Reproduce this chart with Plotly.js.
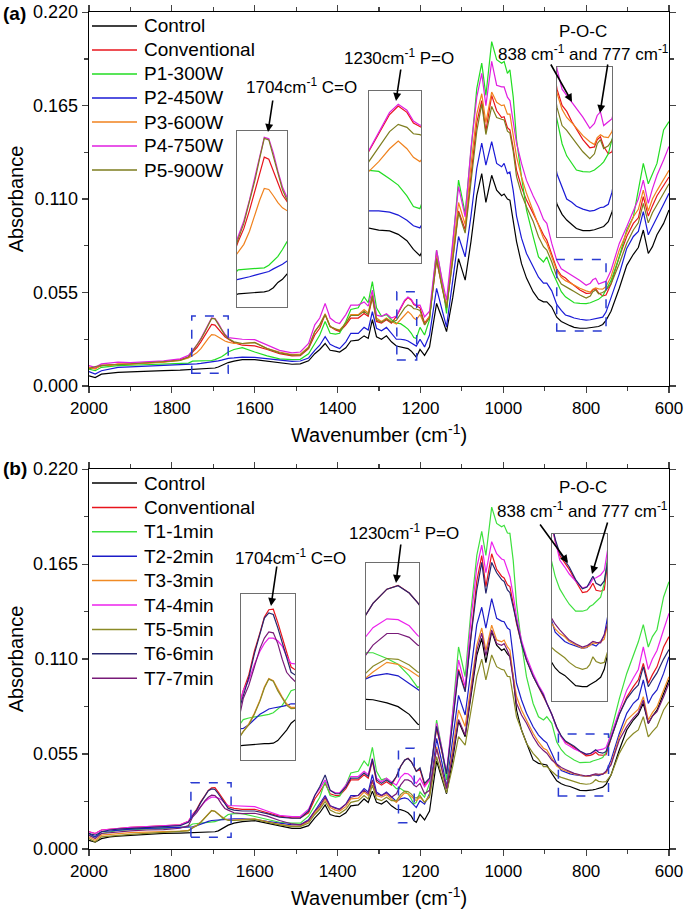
<!DOCTYPE html>
<html>
<head>
<meta charset="utf-8">
<script src="https://cdn.plot.ly/plotly-3.0.1.min.js"></script>
<style>
  html, body { margin: 0; padding: 0; background: #fff; }
  #chart { width: 685px; height: 917px; }
</style>
</head>
<body>
<div id="chart"></div>
<script>
// Wavenumber grid (cm-1) shared by every spectrum
let wavenumber = [
  2000, 1985, 1970, 1950, 1930, 1900, 1860, 1820, 1780, 1760,
  1750, 1740, 1730, 1720, 1712, 1704, 1696, 1688, 1680, 1672,
  1664, 1650, 1630, 1600, 1570, 1540, 1510, 1490, 1470, 1455,
  1443, 1430, 1418, 1405, 1395, 1380, 1368, 1350, 1336, 1326,
  1316, 1306, 1294, 1282, 1270, 1258, 1248, 1238, 1230, 1222,
  1216, 1210, 1201, 1190, 1178, 1161, 1148, 1137, 1122, 1108,
  1092, 1078, 1064, 1052, 1042, 1028, 1016, 1004, 998, 990,
  984, 976, 968, 956, 944, 928, 915, 903, 895, 883,
  871, 860, 850, 839, 829, 815, 800, 790, 784, 777,
  770, 760, 752, 740, 720, 702, 686, 674, 662, 650,
  640, 629, 613, 600
]

// ---- Panel (a): microwave power ----
let aControl = [
  0.006, 0.005, 0.007, 0.0075, 0.008, 0.0083, 0.0088, 0.009, 0.0093, 0.0096,
  0.0100, 0.0101, 0.0102, 0.0102, 0.0103, 0.0104, 0.0106, 0.0112, 0.0122, 0.0128,
  0.0138, 0.0146, 0.0155, 0.0155, 0.0145, 0.0137, 0.0128, 0.013, 0.0148, 0.019,
  0.0215, 0.025, 0.021, 0.0205, 0.020, 0.0225, 0.0265, 0.027, 0.0295, 0.028,
  0.039, 0.029, 0.0275, 0.0295, 0.026, 0.0235, 0.023, 0.0228, 0.022, 0.0205,
  0.0185, 0.017, 0.0215, 0.018, 0.023, 0.0486, 0.040, 0.032, 0.052, 0.075,
  0.0623, 0.085, 0.112, 0.125, 0.108, 0.124, 0.1153, 0.112, 0.113, 0.110,
  0.1094, 0.098, 0.085, 0.072, 0.0635, 0.0555, 0.051, 0.0495, 0.0495, 0.0465,
  0.0405, 0.038, 0.0366, 0.0355, 0.0345, 0.034, 0.034, 0.0342, 0.0345, 0.0348,
  0.035, 0.0362, 0.0386, 0.044, 0.0575, 0.071, 0.0775, 0.0815, 0.0918, 0.078,
  0.082, 0.089, 0.0957, 0.1036
]
let aConventional = [
  0.011, 0.0105, 0.012, 0.0125, 0.0128, 0.013, 0.0135, 0.0142, 0.0155, 0.017,
  0.020, 0.0225, 0.026, 0.030, 0.0335, 0.0362, 0.0358, 0.0335, 0.031, 0.029,
  0.0277, 0.0255, 0.024, 0.0236, 0.0215, 0.019, 0.0177, 0.0178, 0.022, 0.030,
  0.034, 0.042, 0.035, 0.033, 0.032, 0.036, 0.040, 0.040, 0.0427, 0.041,
  0.052, 0.038, 0.037, 0.039, 0.037, 0.041, 0.0455, 0.050, 0.052, 0.0505,
  0.048, 0.047, 0.046, 0.037, 0.041, 0.074, 0.058, 0.046, 0.075, 0.103,
  0.092, 0.125, 0.155, 0.168, 0.150, 0.171, 0.162, 0.158, 0.1585, 0.152,
  0.1507, 0.14, 0.127, 0.117, 0.1094, 0.1016, 0.095, 0.089, 0.0859, 0.078,
  0.069, 0.065, 0.0635, 0.061, 0.059, 0.0565, 0.0545, 0.0547, 0.0565, 0.0572,
  0.0548, 0.053, 0.0535, 0.060, 0.076, 0.088, 0.0957, 0.099, 0.1114, 0.100,
  0.106, 0.112, 0.118, 0.123
]
let aP1 = [
  0.010, 0.009, 0.011, 0.0115, 0.012, 0.0122, 0.0125, 0.0128, 0.013, 0.0135,
  0.0146, 0.0147, 0.0148, 0.0148, 0.0149, 0.015, 0.0155, 0.0163, 0.0172, 0.0185,
  0.020, 0.0215, 0.0226, 0.020, 0.0177, 0.016, 0.0155, 0.0157, 0.019, 0.025,
  0.030, 0.038, 0.031, 0.0305, 0.031, 0.038, 0.045, 0.046, 0.0525, 0.049,
  0.0614, 0.046, 0.041, 0.042, 0.039, 0.037, 0.0367, 0.035, 0.0335, 0.031,
  0.0285, 0.028, 0.0345, 0.030, 0.039, 0.080, 0.062, 0.0427, 0.085, 0.1212,
  0.1016, 0.14, 0.175, 0.19, 0.171, 0.2027, 0.192, 0.19, 0.191, 0.184,
  0.186, 0.170, 0.145, 0.123, 0.1036, 0.088, 0.076, 0.073, 0.076, 0.068,
  0.061, 0.0555, 0.0525, 0.0508, 0.049, 0.0486, 0.0485, 0.049, 0.0495, 0.0502,
  0.051, 0.053, 0.0565, 0.062, 0.076, 0.0918, 0.0996, 0.1153, 0.131, 0.119,
  0.125, 0.131, 0.1507, 0.1556
]
let aP2 = [
  0.0085, 0.007, 0.009, 0.010, 0.011, 0.0113, 0.0117, 0.012, 0.0123, 0.0125,
  0.0128, 0.013, 0.0133, 0.0136, 0.0138, 0.014, 0.0143, 0.0148, 0.0152, 0.0157,
  0.0163, 0.0165, 0.017, 0.0168, 0.016, 0.0152, 0.0145, 0.0147, 0.0165, 0.021,
  0.024, 0.029, 0.0245, 0.023, 0.022, 0.026, 0.031, 0.031, 0.0345, 0.033,
  0.0437, 0.034, 0.0325, 0.0345, 0.031, 0.0275, 0.0275, 0.0272, 0.0265, 0.0253,
  0.024, 0.0235, 0.0275, 0.023, 0.030, 0.0574, 0.045, 0.0348, 0.062, 0.088,
  0.076, 0.100, 0.128, 0.143, 0.130, 0.1438, 0.131, 0.129, 0.131, 0.125,
  0.126, 0.115, 0.100, 0.087, 0.078, 0.070, 0.064, 0.0605, 0.0605, 0.056,
  0.048, 0.0445, 0.0418, 0.041, 0.040, 0.0393, 0.0388, 0.039, 0.0393, 0.0397,
  0.0398, 0.0405, 0.0435, 0.052, 0.066, 0.081, 0.088, 0.091, 0.1026, 0.089,
  0.094, 0.100, 0.107, 0.1134
]
let aP3 = [
  0.011, 0.010, 0.0125, 0.012, 0.013, 0.0128, 0.0135, 0.014, 0.015, 0.0165,
  0.018, 0.0195, 0.022, 0.0255, 0.028, 0.0302, 0.030, 0.0288, 0.0275, 0.0265,
  0.0258, 0.025, 0.025, 0.0257, 0.022, 0.020, 0.0185, 0.0187, 0.023, 0.032,
  0.036, 0.0425, 0.035, 0.0335, 0.033, 0.037, 0.042, 0.042, 0.045, 0.043,
  0.054, 0.040, 0.038, 0.040, 0.038, 0.0365, 0.039, 0.042, 0.0438, 0.042,
  0.040, 0.039, 0.042, 0.036, 0.041, 0.077, 0.059, 0.047, 0.078, 0.108,
  0.095, 0.130, 0.160, 0.172, 0.155, 0.173, 0.167, 0.165, 0.1654, 0.160,
  0.160, 0.148, 0.135, 0.123, 0.1134, 0.103, 0.095, 0.087, 0.0839, 0.076,
  0.068, 0.064, 0.062, 0.0607, 0.0593, 0.0575, 0.056, 0.0553, 0.057, 0.0577,
  0.0572, 0.057, 0.0585, 0.0643, 0.080, 0.090, 0.0996, 0.104, 0.1153, 0.103,
  0.110, 0.115, 0.1212, 0.127
]
let aP4 = [
  0.012, 0.011, 0.013, 0.0135, 0.014, 0.0138, 0.0142, 0.0148, 0.016, 0.018,
  0.021, 0.024, 0.028, 0.0325, 0.0365, 0.040, 0.0397, 0.037, 0.0335, 0.0305,
  0.0285, 0.028, 0.0275, 0.0273, 0.024, 0.021, 0.0195, 0.020, 0.025, 0.036,
  0.040, 0.0486, 0.040, 0.0375, 0.0368, 0.042, 0.0476, 0.0476, 0.0495, 0.047,
  0.0564, 0.0417, 0.041, 0.0425, 0.040, 0.0412, 0.046, 0.0505, 0.0524, 0.051,
  0.0485, 0.0475, 0.0476, 0.0407, 0.044, 0.080, 0.063, 0.0505, 0.085, 0.1173,
  0.0996, 0.140, 0.170, 0.184, 0.165, 0.191, 0.177, 0.176, 0.176, 0.170,
  0.168, 0.1566, 0.143, 0.131, 0.121, 0.112, 0.1055, 0.098, 0.0957, 0.0839,
  0.074, 0.069, 0.0675, 0.066, 0.0645, 0.0621, 0.0593, 0.0605, 0.0625, 0.0634,
  0.060, 0.0609, 0.0617, 0.068, 0.0839, 0.0937, 0.1036, 0.110, 0.1212, 0.1075,
  0.116, 0.124, 0.133, 0.141
]
let aP5 = [
  0.010, 0.0115, 0.012, 0.0125, 0.0125, 0.013, 0.0133, 0.014, 0.015, 0.017,
  0.0205, 0.0235, 0.0275, 0.032, 0.036, 0.0398, 0.0395, 0.0365, 0.033, 0.030,
  0.028, 0.026, 0.025, 0.0255, 0.022, 0.0195, 0.0182, 0.0183, 0.0225, 0.032,
  0.036, 0.042, 0.035, 0.0335, 0.0325, 0.037, 0.0415, 0.0415, 0.044, 0.042,
  0.053, 0.039, 0.0375, 0.0395, 0.0375, 0.0387, 0.0425, 0.046, 0.0477, 0.047,
  0.0455, 0.0453, 0.0445, 0.036, 0.040, 0.075, 0.058, 0.046, 0.074, 0.102,
  0.090, 0.122, 0.150, 0.166, 0.148, 0.1645, 0.158, 0.157, 0.1566, 0.150,
  0.1488, 0.138, 0.1232, 0.113, 0.1055, 0.097, 0.0878, 0.082, 0.080, 0.073,
  0.0645, 0.060, 0.0588, 0.057, 0.0556, 0.0535, 0.0518, 0.053, 0.0555, 0.0565,
  0.0543, 0.055, 0.0564, 0.060, 0.072, 0.084, 0.0918, 0.096, 0.1075, 0.096,
  0.102, 0.107, 0.1134, 0.119
]
let aNames = ["Control", "Conventional", "P1-300W", "P2-450W", "P3-600W", "P4-750W", "P5-900W"]
let aColors = ["#000000", "#e8141c", "#22dd22", "#1a1ad6", "#f0821e", "#e01ee0", "#7d7d1e"]

// ---- Panel (b): treatment time ----
let bControl = [
  0.005, 0.004, 0.006, 0.007, 0.0075, 0.008, 0.0085, 0.009, 0.0092, 0.0094, 0.0096, 0.0097, 0.0098, 0.0098, 0.0099, 0.0099, 0.0100, 0.0105, 0.0115, 0.0125, 0.0138, 0.015, 0.0158, 0.0164, 0.015, 0.0135, 0.012, 0.012,
  0.0135, 0.018, 0.021, 0.0255, 0.020, 0.019, 0.0187, 0.021, 0.025, 0.0255, 0.029, 0.027, 0.0335, 0.027, 0.026, 0.028, 0.025,
  0.023, 0.0228, 0.022, 0.021, 0.019, 0.0165, 0.0155, 0.020,
  0.0168, 0.022, 0.051, 0.040, 0.032, 0.052, 0.074, 0.065, 0.088, 0.112, 0.122, 0.108, 0.126,
  0.118, 0.115, 0.116, 0.113, 0.1114, 0.0998, 0.0805, 0.0689, 0.0612, 0.0516, 0.0496, 0.0490, 0.0487, 0.0438, 0.0395,
  0.0378, 0.0368, 0.0362, 0.0352, 0.034, 0.0338, 0.0338, 0.0342, 0.0346, 0.035, 0.0358, 0.0375, 0.0428, 0.0573, 0.0689, 0.0747, 0.078, 0.0844, 0.0727, 0.077, 0.0804, 0.0901, 0.098
]
let bConventional = [
  0.010, 0.009, 0.011, 0.0115, 0.012, 0.0125, 0.013, 0.0135, 0.014, 0.016, 0.020, 0.023, 0.0275, 0.031, 0.034, 0.0354, 0.0355, 0.033, 0.030, 0.027, 0.0245, 0.0235, 0.023, 0.023, 0.021, 0.019, 0.018, 0.018,
  0.021, 0.029, 0.033, 0.038, 0.032, 0.031, 0.031, 0.035, 0.040, 0.040, 0.043, 0.041, 0.051, 0.039, 0.037, 0.039, 0.037,
  0.042, 0.0478, 0.0515, 0.0525, 0.0505, 0.048, 0.045, 0.046,
  0.037, 0.040, 0.070, 0.056, 0.0435, 0.075, 0.104, 0.092, 0.125, 0.155, 0.170, 0.152, 0.171,
  0.162, 0.158, 0.157, 0.153, 0.152, 0.142, 0.1306, 0.119, 0.1094, 0.100, 0.094, 0.089, 0.0844, 0.078, 0.0705,
  0.065, 0.062, 0.0605, 0.059, 0.0565, 0.054, 0.0542, 0.0548, 0.056, 0.0545, 0.0543, 0.0546, 0.064, 0.078, 0.088, 0.094, 0.098, 0.1075, 0.096, 0.101, 0.1055, 0.117, 0.123
]
let bT1 = [
  0.008, 0.007, 0.009, 0.010, 0.0108, 0.0112, 0.0118, 0.012, 0.0125, 0.013, 0.0145, 0.0148, 0.015, 0.0152, 0.0153, 0.0155, 0.0158, 0.0165, 0.0172, 0.0185, 0.020, 0.0205, 0.0205, 0.0188, 0.017, 0.0155, 0.015, 0.015,
  0.019, 0.025, 0.030, 0.039, 0.031, 0.030, 0.0305, 0.037, 0.044, 0.045, 0.051, 0.048, 0.0589, 0.045, 0.040, 0.041, 0.038,
  0.035, 0.035, 0.0335, 0.032, 0.029, 0.026, 0.027, 0.033,
  0.030, 0.038, 0.0747, 0.058, 0.040, 0.082, 0.117, 0.0998, 0.138, 0.170, 0.184, 0.170, 0.198,
  0.1886, 0.1866, 0.1875, 0.183, 0.1828, 0.167, 0.142, 0.119, 0.0998, 0.0843, 0.0766, 0.0747, 0.0766, 0.0728, 0.062,
  0.0575, 0.0548, 0.053, 0.0515, 0.050, 0.050, 0.0503, 0.051, 0.0514, 0.052, 0.053, 0.056, 0.068, 0.087, 0.1017, 0.112, 0.120, 0.130, 0.117, 0.123, 0.127, 0.146, 0.1548
]
let bT2 = [
  0.009, 0.007, 0.010, 0.0105, 0.011, 0.0115, 0.012, 0.0123, 0.0125, 0.0127, 0.0128, 0.0135, 0.0145, 0.0155, 0.016, 0.0165, 0.0167, 0.0168, 0.017, 0.0172, 0.0175, 0.0175, 0.0175, 0.0172, 0.016, 0.015, 0.014, 0.014,
  0.017, 0.022, 0.026, 0.031, 0.025, 0.024, 0.023, 0.026, 0.031, 0.031, 0.035, 0.033, 0.043, 0.033, 0.031, 0.033, 0.030,
  0.0275, 0.029, 0.0296, 0.029, 0.027, 0.0255, 0.024, 0.028,
  0.026, 0.032, 0.064, 0.050, 0.036, 0.064, 0.089, 0.0776, 0.105, 0.130, 0.140, 0.128, 0.145,
  0.1336, 0.132, 0.1316, 0.128, 0.127, 0.1114, 0.096, 0.0863, 0.0786, 0.0708, 0.066, 0.063, 0.0615, 0.0555, 0.049,
  0.0455, 0.0445, 0.0435, 0.043, 0.0425, 0.042, 0.0422, 0.0428, 0.0428, 0.0425, 0.0435, 0.0448, 0.0514, 0.0669, 0.0786, 0.0844, 0.087, 0.0979, 0.0843, 0.089, 0.0921, 0.1017, 0.1114
]
let bT3 = [
  0.007, 0.005, 0.008, 0.0085, 0.009, 0.0095, 0.0098, 0.010, 0.0103, 0.0108, 0.0122, 0.0137, 0.0157, 0.0182, 0.0207, 0.0223, 0.0219, 0.0202, 0.0188, 0.0175, 0.0168, 0.0168, 0.017, 0.0174, 0.0158, 0.0143, 0.0133, 0.0133,
  0.016, 0.021, 0.024, 0.029, 0.024, 0.0225, 0.022, 0.0245, 0.029, 0.0295, 0.033, 0.031, 0.039, 0.031, 0.030, 0.0315, 0.029,
  0.027, 0.030, 0.0325, 0.032, 0.0305, 0.029, 0.028, 0.030,
  0.027, 0.031, 0.0592, 0.046, 0.035, 0.058, 0.0805, 0.071, 0.095, 0.118, 0.128, 0.115, 0.1297,
  0.1211, 0.12, 0.121, 0.117, 0.1153, 0.100, 0.0883, 0.0805, 0.0747, 0.067, 0.062, 0.0584, 0.0574, 0.053, 0.048,
  0.0462, 0.0452, 0.0445, 0.0435, 0.0428, 0.042, 0.0423, 0.0426, 0.0432, 0.0431, 0.0434, 0.044, 0.0494, 0.065, 0.0747, 0.0786, 0.081, 0.0882, 0.0747, 0.079, 0.0824, 0.0921, 0.0998
]
let bT4 = [
  0.010, 0.009, 0.011, 0.0115, 0.012, 0.0125, 0.013, 0.0135, 0.014, 0.016, 0.020, 0.022, 0.025, 0.0275, 0.029, 0.030, 0.030, 0.0295, 0.0285, 0.0265, 0.0252, 0.025, 0.0245, 0.0245, 0.022, 0.0195, 0.0188, 0.0188,
  0.023, 0.031, 0.035, 0.040, 0.034, 0.0325, 0.0325, 0.037, 0.042, 0.042, 0.045, 0.043, 0.0525, 0.041, 0.039, 0.041, 0.039,
  0.037, 0.0415, 0.0438, 0.0436, 0.042, 0.0395, 0.038, 0.041,
  0.036, 0.040, 0.0728, 0.058, 0.044, 0.079, 0.1095, 0.094, 0.133, 0.163, 0.176, 0.160, 0.178,
  0.171, 0.168, 0.1674, 0.162, 0.1577, 0.147, 0.1345, 0.121, 0.1114, 0.1017, 0.095, 0.090, 0.0844, 0.078, 0.070,
  0.065, 0.061, 0.0595, 0.058, 0.0565, 0.055, 0.0553, 0.0558, 0.057, 0.0572, 0.0578, 0.0588, 0.066, 0.080, 0.092, 0.099, 0.104, 0.117, 0.104, 0.110, 0.115, 0.127, 0.1365
]
let bT5 = [
  0.006, 0.004, 0.007, 0.0075, 0.008, 0.0085, 0.009, 0.0095, 0.010, 0.0105, 0.0122, 0.0135, 0.0155, 0.018, 0.0205, 0.0222, 0.0218, 0.020, 0.0185, 0.0172, 0.0166, 0.0165, 0.0168, 0.0172, 0.0155, 0.014, 0.013, 0.013,
  0.015, 0.020, 0.023, 0.0275, 0.0225, 0.021, 0.0205, 0.023, 0.027, 0.028, 0.031, 0.029, 0.037, 0.029, 0.028, 0.030, 0.028,
  0.028, 0.0315, 0.0335, 0.0333, 0.0318, 0.030, 0.0295, 0.031,
  0.027, 0.030, 0.0535, 0.042, 0.0325, 0.048, 0.0651, 0.0602, 0.080, 0.100, 0.110, 0.098, 0.1124,
  0.1056, 0.104, 0.1037, 0.100, 0.0998, 0.0882, 0.0766, 0.0689, 0.0612, 0.0554, 0.052, 0.0477, 0.0477, 0.045, 0.0425,
  0.0415, 0.0408, 0.040, 0.039, 0.038, 0.0375, 0.0378, 0.0385, 0.0402, 0.0392, 0.0388, 0.039, 0.0428, 0.0554, 0.0631, 0.0669, 0.069, 0.0766, 0.065, 0.068, 0.0708, 0.0805, 0.0853
]
let bT6 = [
  0.009, 0.008, 0.010, 0.011, 0.0115, 0.012, 0.0125, 0.013, 0.0135, 0.0155, 0.019, 0.0225, 0.027, 0.031, 0.0338, 0.0348, 0.0345, 0.032, 0.029, 0.026, 0.0235, 0.0225, 0.022, 0.022, 0.0205, 0.0185, 0.0178, 0.0178,
  0.022, 0.031, 0.036, 0.0429, 0.034, 0.032, 0.032, 0.036, 0.041, 0.041, 0.044, 0.042, 0.052, 0.040, 0.038, 0.040, 0.038,
  0.042, 0.0478, 0.0515, 0.0524, 0.0505, 0.048, 0.045, 0.047,
  0.038, 0.041, 0.071, 0.057, 0.0435, 0.074, 0.103, 0.091, 0.123, 0.150, 0.166, 0.148, 0.166,
  0.160, 0.156, 0.155, 0.150, 0.1485, 0.140, 0.1306, 0.119, 0.1094, 0.100, 0.094, 0.089, 0.0844, 0.078, 0.0705,
  0.0655, 0.0625, 0.061, 0.0595, 0.0568, 0.0548, 0.0552, 0.0562, 0.0575, 0.056, 0.0555, 0.0565, 0.064, 0.078, 0.087, 0.092, 0.095, 0.1056, 0.094, 0.098, 0.102, 0.110, 0.1155
]
let bT7 = [
  0.008, 0.006, 0.009, 0.0095, 0.010, 0.0105, 0.011, 0.0112, 0.012, 0.0135, 0.0185, 0.021, 0.0245, 0.028, 0.030, 0.0312, 0.031, 0.029, 0.026, 0.0235, 0.0225, 0.021, 0.0205, 0.0207, 0.019, 0.0165, 0.0145, 0.014,
  0.0165, 0.022, 0.025, 0.030, 0.025, 0.0235, 0.023, 0.026, 0.030, 0.031, 0.034, 0.032, 0.040, 0.032, 0.031, 0.0325, 0.030,
  0.032, 0.037, 0.040, 0.040, 0.039, 0.037, 0.036, 0.038,
  0.032, 0.034, 0.058, 0.046, 0.035, 0.055, 0.075, 0.066, 0.090, 0.115, 0.125, 0.112, 0.1268,
  0.119, 0.118, 0.119, 0.115, 0.1114, 0.098, 0.0844, 0.0776, 0.0728, 0.065, 0.060, 0.057, 0.0555, 0.0515, 0.049,
  0.0472, 0.046, 0.0448, 0.0438, 0.043, 0.0423, 0.0426, 0.043, 0.0435, 0.0433, 0.0432, 0.045, 0.0487, 0.0631, 0.0709, 0.076, 0.079, 0.0863, 0.0727, 0.077, 0.0795, 0.0882, 0.096
]
let bNames = ["Control", "Conventional", "T1-1min", "T2-2min", "T3-3min", "T4-4min", "T5-5min", "T6-6min", "T7-7min"]
let bColors = ["#000000", "#e8141c", "#3ee03e", "#1c1cc8", "#f08a24", "#ec22ec", "#8a8a26", "#26266e", "#781a78"]

// Zoomed regions: [wavenumber from, wavenumber to, absorbance low, absorbance high]
let aRegions = [[1752, 1664, 0.0075, 0.0412], [1257, 1209, 0.0153, 0.0555], [871, 752, 0.0324, 0.0745]]
let bRegions = [[1754, 1657, 0.0068, 0.0384], [1253, 1215, 0.0152, 0.0583], [867, 746, 0.0307, 0.0666]]

// Inset boxes on the page, pixels: [left, right, top, bottom]
let aBoxes = [[237, 287, 131, 307], [369, 421, 91, 263], [557, 612, 67, 237]]
let bBoxes = [[241, 295, 594, 760], [366, 419, 563, 729], [552, 607, 534, 701]]

let W = 685, H = 917
function px(x) { return x / W }
function py(y) { return 1 - y / H }

let aSeries = [aControl, aConventional, aP1, aP2, aP3, aP4, aP5]
let bSeries = [bControl, bConventional, bT1, bT2, bT3, bT4, bT5, bT6, bT7]

let data = []

// main traces plus the same spectra again on each inset axis
function addPanel(series, names, colors, mainX, mainY, insetIds) {
  for (let i = 0; i < series.length; i++) {
    data.push({
      x: wavenumber, y: series[i], name: names[i],
      type: "scatter", mode: "lines",
      line: { color: colors[i], width: 1.2 },
      xaxis: mainX, yaxis: mainY
    })
    for (let k = 0; k < insetIds.length; k++) {
      data.push({
        x: wavenumber, y: series[i], name: names[i],
        type: "scatter", mode: "lines",
        line: { color: colors[i], width: 1.2 },
        xaxis: "x" + insetIds[k], yaxis: "y" + insetIds[k]
      })
    }
  }
}
addPanel(aSeries, aNames, aColors, "x", "y", [3, 4, 5])
addPanel(bSeries, bNames, bColors, "x2", "y2", [6, 7, 8])

let font = "Liberation Sans, Arial, sans-serif"

function mainX(anchor) {
  return {
    domain: [px(89), px(669)], range: [2000, 600], anchor: anchor,
    tick0: 0, dtick: 200, ticks: "outside", ticklen: 6, tickwidth: 1.2,
    minor: { ticks: "outside", dtick: 100, ticklen: 3.5, tickwidth: 1.2 },
    showline: true, mirror: "ticks", linecolor: "#000", linewidth: 1.3,
    showgrid: false, zeroline: false, tickfont: { size: 17 },
    title: { text: "Wavenumber (cm<sup>-1</sup>)", font: { size: 20 }, standoff: 11 }
  }
}
function mainY(anchor, top, bottom) {
  return {
    domain: [py(bottom), py(top)], range: [0, 0.2201], anchor: anchor,
    tick0: 0, dtick: 0.055, tickformat: ".3f", ticks: "outside", ticklen: 6, tickwidth: 1.2,
    minor: { ticks: "outside", dtick: 0.0275, ticklen: 3.5, tickwidth: 1.2 },
    showline: true, mirror: "ticks", linecolor: "#000", linewidth: 1.3,
    showgrid: false, zeroline: false, tickfont: { size: 18 },
    title: { text: "Absorbance", font: { size: 20 }, standoff: 4 }
  }
}
function insetAxis(domain, range, anchor) {
  return {
    domain: domain, range: range, anchor: anchor,
    showticklabels: false, ticks: "", showgrid: false, zeroline: false,
    showline: true, mirror: true, linecolor: "#6e6e6e", linewidth: 1.2
  }
}

let layout = {
  width: W, height: H,
  margin: { l: 0, r: 0, t: 0, b: 0 },
  paper_bgcolor: "#fff", plot_bgcolor: "rgba(0,0,0,0)",
  font: { family: font, color: "#000", size: 17 },
  showlegend: false,
  xaxis: mainX("y"),
  yaxis: mainY("x", 12, 386),
  xaxis2: mainX("y2"),
  yaxis2: mainY("x2", 469, 849),
  shapes: [],
  annotations: []
}

// inset axes and the dashed blue boxes marking what they enlarge
function addInsets(regions, boxes, firstId, xref, yref) {
  for (let k = 0; k < regions.length; k++) {
    let id = firstId + k
    let r = regions[k], b = boxes[k]
    layout["xaxis" + id] = insetAxis([px(b[0]), px(b[1])], [r[0], r[1]], "y" + id)
    layout["yaxis" + id] = insetAxis([py(b[3]), py(b[2])], [r[2], r[3]], "x" + id)
    layout.shapes.push({
      type: "rect", xref: xref, yref: yref,
      x0: r[0], x1: r[1], y0: r[2], y1: r[3],
      line: { color: "#2a3bd1", width: 1.5, dash: "dash" }
    })
  }
}
addInsets(aRegions, aBoxes, 3, "x", "y")
addInsets(bRegions, bBoxes, 6, "x2", "y2")

// legends: a short line sample and the name, one row every ~24 px
function addLegend(names, colors, firstY, step) {
  for (let i = 0; i < names.length; i++) {
    let yc = firstY + i * step
    layout.shapes.push({
      type: "line", xref: "paper", yref: "paper",
      x0: px(92), x1: px(137), y0: py(yc), y1: py(yc),
      line: { color: colors[i], width: 1.5 }
    })
    layout.annotations.push({
      text: names[i], xref: "paper", yref: "paper",
      x: px(142), y: py(yc), xanchor: "left", yanchor: "middle",
      showarrow: false, font: { size: 19 }
    })
  }
}
addLegend(aNames, aColors, 26, 24)
addLegend(bNames, bColors, 483, 24.4)

// labels: [text, x px, y px]
let labels = [
  ["1704cm<sup>-1</sup> C=O", 301, 86],
  ["1230cm<sup>-1</sup> P=O", 399, 57],
  ["P-O-C", 583, 31],
  ["838 cm<sup>-1</sup> and 777 cm<sup>-1</sup>", 583, 53],
  ["1704cm<sup>-1</sup> C=O", 290, 557],
  ["1230cm<sup>-1</sup> P=O", 404, 532],
  ["P-O-C", 583, 487],
  ["838 cm<sup>-1</sup> and 777 cm<sup>-1</sup>", 582, 510]
]
for (let i = 0; i < labels.length; i++) {
  layout.annotations.push({
    text: labels[i][0], xref: "paper", yref: "paper",
    x: px(labels[i][1]), y: py(labels[i][2]),
    xanchor: "center", yanchor: "middle", showarrow: false,
    font: { size: 17 }
  })
}

// arrows: [head x, head y, tail x, tail y] in px
let arrows = [
  [268, 132, 273, 99], [396, 101, 401, 68], [572, 102, 550, 63], [600, 113, 608, 63],
  [271, 606, 277, 565], [396, 583, 401, 543], [568, 563, 539, 523], [592, 574, 608, 521]
]
for (let i = 0; i < arrows.length; i++) {
  let a = arrows[i]
  layout.annotations.push({
    text: "", xref: "paper", yref: "paper",
    x: px(a[0]), y: py(a[1]), ax: a[2] - a[0], ay: a[3] - a[1],
    showarrow: true, arrowhead: 2, arrowsize: 1, arrowwidth: 1.6, arrowcolor: "#000"
  })
}

// panel letters
layout.annotations.push({ text: "<b>(a)</b>", xref: "paper", yref: "paper", x: px(1), y: py(13),
  xanchor: "left", yanchor: "middle", showarrow: false, font: { size: 19 } })
layout.annotations.push({ text: "<b>(b)</b>", xref: "paper", yref: "paper", x: px(1), y: py(469),
  xanchor: "left", yanchor: "middle", showarrow: false, font: { size: 19 } })

Plotly.newPlot("chart", data, layout, { staticPlot: true, displayModeBar: false })
</script>
</body>
</html>
